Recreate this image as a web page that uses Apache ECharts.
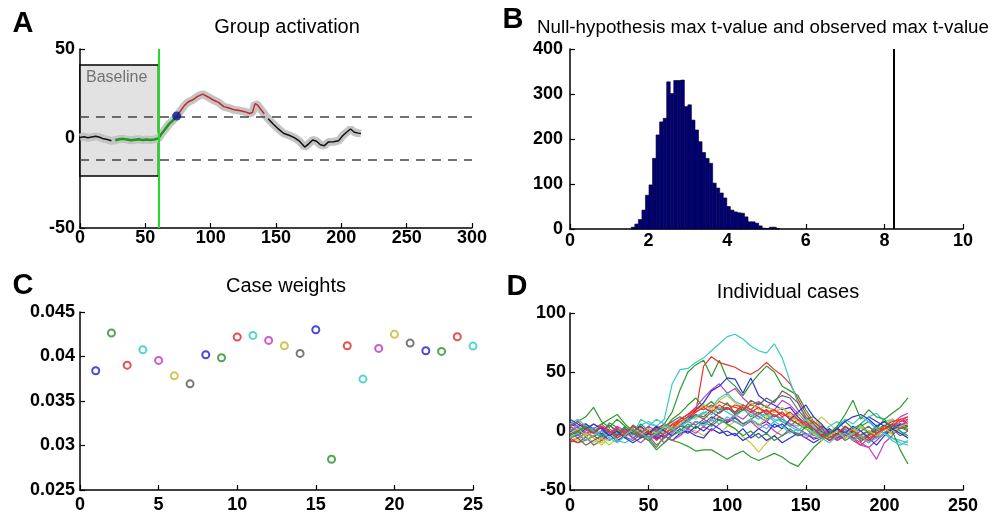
<!DOCTYPE html>
<html><head><meta charset="utf-8">
<script src="https://cdn.jsdelivr.net/npm/echarts@6/dist/echarts.min.js"></script>
<style>html,body{margin:0;padding:0;background:#fff}#c{width:994px;height:517px}</style>
</head><body><div id="c"></div>
<script>
// ---------- Panel A: group activation ----------
const actTime = [0,3,6,9,12,15,18,21,24,27,30,33,36,39,42,45,48,51,54,57,60,62,65,68,71,74,77,80,83,86,90,94,98,102,106,110,114,118,122,126,130,132,134,136,138,141,144,148,152,156,160,164,168,172,175,178,181,184,187,190,194,198,201,204,207,210,213,215];
const actValue = [0.5,1.0,0.4,0.8,1.2,0.7,-0.2,-0.6,-1.3,-1.0,-0.4,-0.2,-0.6,-1.0,-0.7,-0.4,-0.9,-0.6,-0.8,-0.5,0,2.2,5.0,8.0,10.0,12.6,15.5,18.5,20.5,21.5,23.5,24.8,23.2,21.5,20.2,17.8,17.0,16.0,15.6,15.0,14.0,14.6,19.5,18.6,16.6,13.8,11.0,8.0,5.2,2.8,1.8,0.5,-1.5,-4.8,-3.0,-0.8,-1.5,-3.5,-4.0,-2.0,-1.8,-1.2,1.5,3.5,5.3,3.5,3.0,2.8];
const baselineStart = 0, baselineEnd = 60, baselineTop = 41, baselineBottom = -21;
const baselineText = 'Baseline';
const threshUpper = 12, threshLower = -12;
const stimulusTime = 60;
const onsetTime = 74, onsetValue = 12.6;
const greenStart = 25, redStart = 74, redEnd = 143;

// ---------- Panel B: null distribution histogram ----------
const binStart = 1.56, binWidth = 0.09;
const binCounts = [4,11,21,42,75,98,157,209,238,246,327,301,330,330,331,272,276,242,220,194,170,157,146,102,91,80,69,50,42,38,36,35,27,16,16,13,7,2,1,4,4,1];
const observedMaxT = 8.25;

// ---------- Panel C: case weights ----------
const caseIndex = [1,2,3,4,5,6,7,8,9,10,11,12,13,14,15,16,17,18,19,20,21,22,23,24,25];
const caseWeights = [0.0384,0.04264,0.03903,0.04076,0.03956,0.03783,0.03693,0.0402,0.03986,0.04219,0.04237,0.04181,0.04121,0.04035,0.04301,0.02845,0.04121,0.03746,0.04091,0.04249,0.04151,0.04065,0.04057,0.04222,0.04117];

// ---------- Panel D: individual cases ----------
const caseTime = [0,5,10,15,20,25,30,35,40,45,50,55,60,65,70,75,80,85,90,95,100,105,110,115,120,125,130,135,140,145,150,155,160,165,170,175,180,185,190,195,200,205,210,215];
const case01 = [6,3,-2,1,-5,-3,2,-1,-6,0,-4,-7,-2,2,5,3,8,6,12,9,7,11,6,9,5,8,3,6,0,-4,-2,-7,-5,-1,-8,-4,0,-6,-3,2,-2,1,5,2];
const case02 = [4,-1,6,2,-4,7,3,-3,5,1,-6,0,6,16,35,50,56,60,46,60,44,38,30,40,48,55,50,38,34,30,18,8,3,-4,2,-6,0,-9,-4,1,5,-2,3,0];
const case03 = [-3,2,-5,0,4,-2,-6,1,-3,3,0,-5,2,5,8,10,16,55,63,58,56,54,50,48,52,58,52,47,40,27,15,6,-2,-8,-4,2,-6,-3,0,-5,2,6,4,8];
const case04 = [2,-3,4,-1,-6,-2,3,-4,0,5,8,4,10,40,52,53,58,62,68,74,80,82,78,72,68,66,74,62,42,24,10,4,-3,2,-6,0,-4,3,-2,5,0,-6,-8,-10];
const case05 = [-2,4,-5,1,-3,5,-1,-6,2,-4,-8,-3,-10,-2,5,12,20,28,35,40,32,36,28,22,25,20,18,26,22,15,8,2,-4,0,-6,-3,2,-5,-10,-4,2,6,12,15];
const case06 = [0,-4,2,-6,-10,-3,1,-5,-2,3,-1,4,2,8,5,12,10,15,8,12,5,2,-5,-10,-18,-10,-4,2,8,14,10,5,12,6,0,-4,2,-6,-2,4,0,-3,2,5];
const case07 = [-8,-10,-5,-12,-8,-3,-9,-4,0,-5,2,-2,4,0,6,10,14,12,18,15,20,16,22,18,24,20,26,30,28,18,10,12,4,-2,3,-4,-1,-6,-8,-3,2,-2,4,1];
const case08 = [8,4,6,0,-2,-8,-4,2,-3,0,-5,-2,-6,0,4,10,18,24,34,38,45,44,32,45,30,25,22,18,20,12,6,0,-4,2,-3,4,-2,6,12,8,4,10,6,2];
const case09 = [5,8,12,20,8,3,10,4,-2,6,0,-4,2,10,15,22,28,20,25,18,24,15,20,12,16,10,14,8,4,10,2,-4,0,-8,-4,2,-3,4,8,2,10,15,20,28];
const case10 = [-10,-6,-2,-5,0,-4,2,-2,4,0,-3,2,6,3,10,14,18,22,20,25,22,20,18,22,20,16,18,14,12,10,4,8,2,-4,0,-6,-2,-8,-4,0,4,2,8,10];
const case11 = [0,5,-2,3,-5,-8,-3,1,-4,10,6,4,-2,2,6,10,12,15,20,28,32,25,22,18,12,15,10,8,6,4,10,2,-2,4,8,2,-4,6,12,15,8,10,0,-6];
const case12 = [4,0,-3,2,6,0,-4,2,-6,-10,-4,-12,-6,0,4,8,5,10,6,12,8,14,10,16,12,8,14,10,6,2,-2,-6,-3,-8,-4,0,-6,-10,-14,-8,-2,4,8,12];
const case13 = [-4,-8,-2,-6,-12,-6,0,3,-2,2,-4,0,-2,4,-4,2,0,-4,2,-2,4,8,6,10,4,12,16,20,14,10,6,12,4,-2,-6,-2,2,-4,-8,-2,4,10,6,2];
const case14 = [-6,-3,-8,-4,0,5,0,-5,-8,-3,-6,0,4,8,12,8,14,10,16,12,8,12,6,10,14,18,12,16,10,6,2,-2,4,0,-6,-2,-8,-4,0,-6,-2,2,-4,0];
const case15 = [0,-4,2,-2,3,-3,-8,-4,0,4,-2,-6,-4,-8,-2,0,-4,-6,2,-2,0,-4,2,-6,-2,-8,-4,-10,-6,-2,-6,-10,-6,-2,2,-2,4,0,-6,-12,-4,2,6,4];
const case16 = [2,-2,4,0,-4,2,-3,4,-2,0,-6,-14,-4,-8,-10,-13,-17,-16,-16,-20,-24,-20,-17,-22,-25,-22,-19,-22,-27,-30,-22,-14,-8,-3,4,8,2,6,-2,4,8,4,0,-4];
const case17 = [-6,-10,-8,-4,-8,-2,2,-2,4,0,-2,3,0,6,10,14,20,18,22,18,20,16,22,18,15,18,12,16,10,6,8,2,-4,0,-6,-2,-8,-12,-6,-2,4,8,10,6];
const case18 = [6,10,4,0,-4,-2,-8,-10,-6,-2,4,10,6,2,4,8,12,16,14,20,16,12,18,14,10,14,8,12,4,0,6,-2,-6,-2,4,10,6,12,8,2,-2,-6,-10,-12];
const case19 = [2,-4,0,6,2,-2,4,0,-6,-2,4,0,-4,-8,-4,2,-2,4,0,6,10,8,4,8,2,6,0,-4,0,-2,-6,-2,2,-4,-8,-2,-6,-12,-14,-24,-10,-4,4,10];
const case20 = [-2,2,-4,-10,-6,-12,-6,-2,0,-4,2,-2,4,0,6,12,16,22,18,26,30,24,20,24,18,22,16,20,12,8,2,-2,-8,-4,0,-6,-2,4,0,-4,2,-2,4,6];
const case21 = [-2,-6,-12,-8,-4,0,-4,2,-2,-6,-2,2,-4,0,4,2,8,4,10,16,20,14,18,26,22,28,24,34,30,24,12,6,0,-6,-2,-8,-4,0,4,-2,2,6,2,4];
const case22 = [10,6,2,6,2,-4,0,-6,-10,-6,-2,4,0,-4,2,-2,4,0,6,2,-4,-2,-8,-4,2,-2,6,2,10,16,22,12,6,-2,2,8,12,14,10,4,8,2,-2,-6];
const case23 = [-4,0,4,-2,6,10,14,6,0,-4,-8,-16,-10,-4,0,6,2,8,4,10,6,2,-4,0,-6,-2,-8,-4,2,-4,4,0,-6,-2,4,14,26,10,18,12,10,0,-16,-28];
const case24 = [4,8,2,-2,4,0,-6,-2,2,-4,0,-8,-2,2,8,12,16,20,16,22,18,22,20,16,20,14,18,12,16,10,6,2,-4,-8,-2,4,0,-4,-8,-2,2,4,10,12];
const case25 = [-6,-2,-8,-4,0,-6,-10,-4,2,-2,-6,-2,4,2,-2,4,8,4,10,6,12,8,4,10,6,2,8,4,-2,2,-4,0,-6,-10,-4,-2,-8,-4,-10,-6,-2,-8,-12,-8];
const caseTraces = [case01,case02,case03,case04,case05,case06,case07,case08,case09,case10,case11,case12,case13,case14,case15,case16,case17,case18,case19,case20,case21,case22,case23,case24,case25];

// ---------- styles ----------
const FONT = '"Liberation Sans", Arial, sans-serif';
const markerPalette = ['#1c1cd6','#2a8c2a','#e02424','#2ec8c8','#c030c0','#c8b82e','#555555'];
const linePalette = ['#2f2fe0','#2e9a2e','#e83232','#3cc8c8','#c040c0','#c8c83c','#666666'];

function xAx(gi, min, max, interval, margin) {
  return {type:'value', gridIndex:gi, min, max, interval,
    axisLine:{show:true, onZero:false, lineStyle:{color:'#000', width:1.5}},
    axisTick:{show:true, inside:true, length:5, lineStyle:{color:'#000', width:1.2}},
    axisLabel:{color:'#000', fontSize:18, fontWeight:'bold', fontFamily:FONT, margin:margin},
    splitLine:{show:false}};
}
function yAx(gi, min, max, interval, margin, fmt) {
  const a = {type:'value', gridIndex:gi, min, max, interval,
    axisLine:{show:true, onZero:false, lineStyle:{color:'#000', width:1.5}},
    axisTick:{show:true, inside:true, length:5, lineStyle:{color:'#000', width:1.2}},
    axisLabel:{color:'#000', fontSize:18, fontWeight:'bold', fontFamily:FONT, margin:margin},
    splitLine:{show:false}};
  if (fmt) a.axisLabel.formatter = fmt;
  return a;
}

const actPairs = actTime.map((t,i)=>[t, actValue[i]]);
const seg = (a,b)=>actPairs.filter(p=>p[0]>=a && p[0]<=b);

const series = [];
// Panel A
series.push({type:'line', xAxisIndex:0, yAxisIndex:0, data:[], silent:true, z:1,
  markArea:{silent:true, itemStyle:{color:'#e2e2e2', borderColor:'#000', borderWidth:1.5},
    label:{show:false},
    data:[[{xAxis:baselineStart, yAxis:baselineTop},{xAxis:baselineEnd, yAxis:baselineBottom}]]},
  markLine:{silent:true, symbol:'none', label:{show:false},
    lineStyle:{color:'#444', width:1.5, type:[9,7]},
    data:[{yAxis:threshUpper},{yAxis:threshLower}]}
});
series.push({type:'scatter', xAxisIndex:0, yAxisIndex:0, silent:true, z:6, symbolSize:0,
  data:[[baselineStart, baselineTop]],
  label:{show:true, position:[6,4], formatter:baselineText, color:'#555', fontSize:16, fontFamily:FONT, align:'left', verticalAlign:'top'}});
series.push({type:'line', xAxisIndex:0, yAxisIndex:0, data:actPairs, showSymbol:false, z:2,
  lineStyle:{color:'#c4c4c4', width:8}});
series.push({type:'line', xAxisIndex:0, yAxisIndex:0, data:seg(0,greenStart), showSymbol:false, z:3, lineStyle:{color:'#111', width:1.5}});
series.push({type:'line', xAxisIndex:0, yAxisIndex:0, data:seg(greenStart,redStart), showSymbol:false, z:3, lineStyle:{color:'#1c9a1c', width:2.5}});
series.push({type:'line', xAxisIndex:0, yAxisIndex:0, data:seg(redStart,redEnd), showSymbol:false, z:3, lineStyle:{color:'#c8282c', width:1.5}});
series.push({type:'line', xAxisIndex:0, yAxisIndex:0, data:seg(redEnd,215), showSymbol:false, z:3, lineStyle:{color:'#111', width:1.5}});
series.push({type:'line', xAxisIndex:0, yAxisIndex:0, data:[], z:4,
  markLine:{silent:true, symbol:'none', label:{show:false}, lineStyle:{color:'#22dd22', width:2, type:'solid'},
    data:[{xAxis:stimulusTime}]}});
series.push({type:'scatter', xAxisIndex:0, yAxisIndex:0, data:[[onsetTime, onsetValue]], symbolSize:9, z:5,
  itemStyle:{color:'#0a1a8c'}});

// Panel B
series.push({type:'custom', xAxisIndex:1, yAxisIndex:1,
  data: binCounts.map((c,i)=>[binStart + i*binWidth, c]),
  renderItem:(params, api)=>{
    const x0 = api.value(0), c = api.value(1);
    const p0 = api.coord([x0, c]);
    const p1 = api.coord([x0 + binWidth, 0]);
    return {type:'rect', shape:{x:p0[0], y:p0[1], width:p1[0]-p0[0], height:p1[1]-p0[1]},
      style:{fill:'#00007c', stroke:'#000020', lineWidth:0.6}};
  },
  markLine:{silent:true, symbol:'none', label:{show:false}, lineStyle:{color:'#000', width:2, type:'solid'},
    data:[{xAxis:observedMaxT}]}
});

// Panel C
series.push({type:'scatter', xAxisIndex:2, yAxisIndex:2, symbol:'emptyCircle', symbolSize:7,
  data: caseIndex.map((x,i)=>({value:[x, caseWeights[i]], itemStyle:{color:markerPalette[i%7], borderColor:markerPalette[i%7], borderWidth:1.8}}))
});

// Panel D
caseTraces.forEach((tr, k)=>{
  series.push({type:'line', xAxisIndex:3, yAxisIndex:3, showSymbol:false, silent:true,
    data: caseTime.map((t,j)=>[t, tr[j]]),
    lineStyle:{color:linePalette[k%7], width:1.2}});
});

function txt(x, y, text, size, weight) {
  return {type:'text', x, y, silent:true,
    style:{text, fill:'#000', font:(weight||'normal')+' '+size+'px '+FONT, align:'center', verticalAlign:'middle'}};
}

const option = {
  animation:false,
  backgroundColor:'#fff',
  grid:[
    {left:80, top:49, width:392, height:179},
    {left:570, top:49, width:393, height:180},
    {left:80, top:312, width:393, height:178},
    {left:570, top:313, width:393, height:177}
  ],
  xAxis:[xAx(0,0,300,50,1), xAx(1,0,10,2,3), xAx(2,0,25,5,6), xAx(3,0,250,50,7)],
  yAxis:[yAx(0,-50,50,50,5), yAx(1,0,400,100,7), yAx(2,0.025,0.045,0.005,5, v=>String(+v.toFixed(3))), yAx(3,-50,100,50,4)],
  graphic:[
    txt(287, 27, 'Group activation', 20),
    txt(763, 28, 'Null-hypothesis max t-value and observed max t-value', 18.8),
    txt(286, 286, 'Case weights', 20),
    txt(788, 292, 'Individual cases', 20),
    txt(23, 24, 'A', 29, 'bold'),
    txt(513, 20, 'B', 29, 'bold'),
    txt(23, 286, 'C', 29, 'bold'),
    txt(517, 287, 'D', 29, 'bold')
  ],
  series
};
const chart = echarts.init(document.getElementById('c'), null, {renderer:'canvas'});
chart.setOption(option);
</script>
</body></html>
